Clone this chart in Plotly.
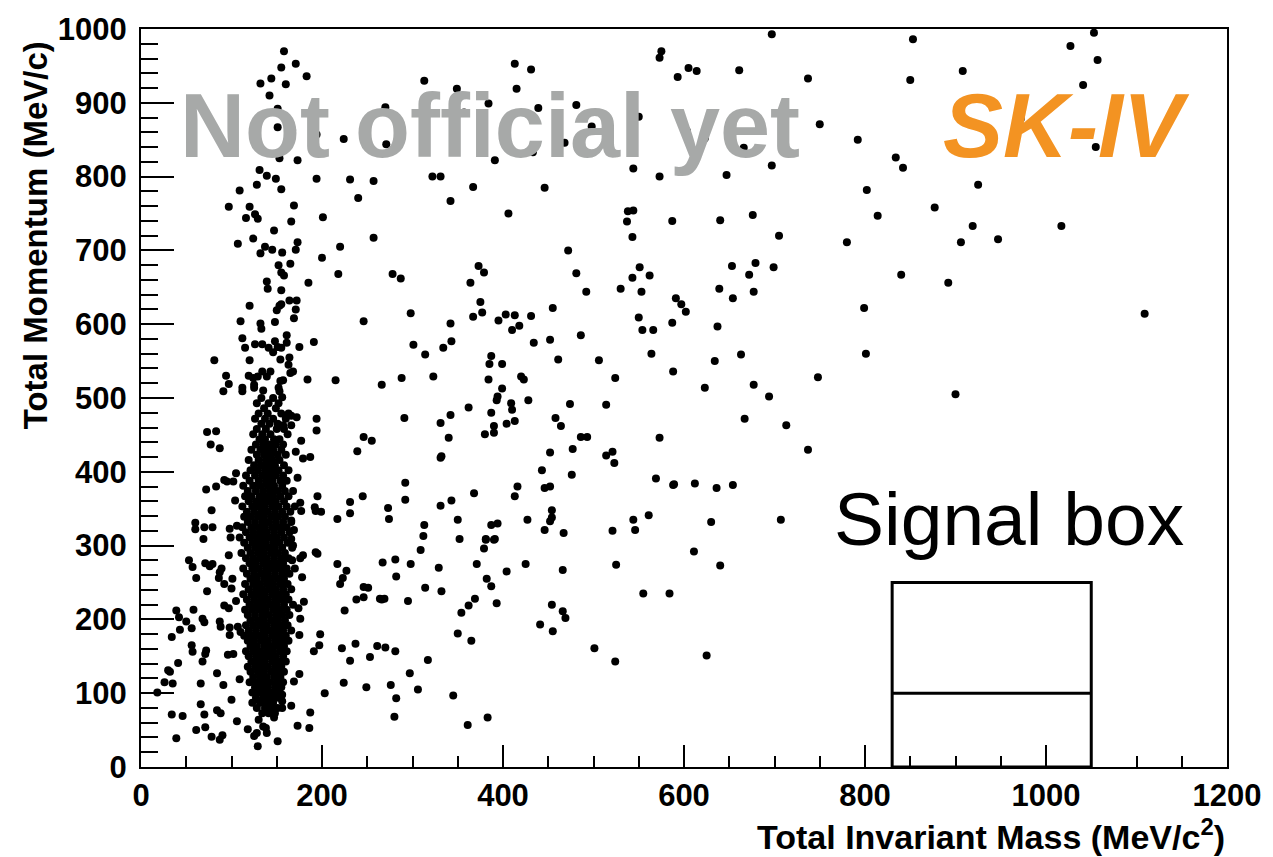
import plotly.graph_objects as go

# ---------------- data (Total Invariant Mass [MeV/c^2], Total Momentum [MeV/c]) ----------------
# high-momentum region, low mass (mom > 630)
upper_left_points = [
    (158,970),(171,953),(155,948),(183,936),(144,933),(132,926),(160,925),(142,910),(151,892),(270,894),
    (313,930),(349,919),(384,899),(357,887),(413,953),(415,919),(167,863),(151,867),(194,857),(224,851),
    (271,844),(391,822),(406,839),(153,825),(173,822),(131,809),(139,801),(149,797),(194,797),(231,796),
    (257,794),(322,800),(331,800),(128,789),(155,783),(109,781),(367,786),(240,771),(342,767),(97,759),
    (120,759),(169,761),(406,750),(116,744),(126,749),(129,743),(201,745),(166,739),(147,727),(257,717),
    (124,716),(107,709),(173,711),(137,705),(145,701),(132,696),(156,697),(171,701),(220,705),(200,690),
    (152,680),(165,682),(155,670),(158,666),(218,668),(278,668),(287,662),(373,679),(379,670),(364,656),
    (139,658),(140,648),(155,646),(185,656),(164,632),(172,632),(375,630),
]

# middle momentum region, low mass (300 - 630)
middle_left_points = [
    (120,625),(153,625),(155,627),(150,619),(171,620),(169,608),(298,615),(246,604),(367,610),(377,616),
    (395,605),(403,613),(413,612),(418,598),(410,592),(342,601),(110,604),(132,601),(133,594),(148,603),
    (161,585),(161,575),(112,581),(191,576),(115,568),(126,573),(134,573),(141,568),(146,562),(148,577),
    (151,569),(155,568),(175,569),(301,572),(343,577),(334,568),(314,559),(81,551),(120,551),(154,552),
    (164,555),(163,545),(387,557),(385,546),(399,546),(94,530),(97,519),(91,509),(112,514),(112,509),
    (119,530),(124,527),(125,518),(125,514),(129,529),(134,536),(139,529),(143,536),(135,510),(154,523),
    (157,524),(152,514),(153,509),(165,534),(168,536),(156,501),(184,525),(215,524),(266,518),(288,527),
    (323,529),(384,525),(399,513),(394,502),(393,497),(420,529),(423,525),(428,497),(362,487),(387,480),
    (409,493),(410,484),(390,462),(380,451),(390,453),(404,465),(413,469),(342,477),(331,466),(340,446),
    (291,473),(246,447),(255,442),(239,428),(331,419),(332,421),(194,472),(194,456),(172,474),(163,479),
    (166,476),(166,463),(157,463),(177,442),(171,427),(179,418),(187,420),(73,454),(83,455),(77,437),
    (87,432),(72,376),(83,380),(78,348),(60,331),(60,322),(70,325),(79,325),(69,309),(92,389),
    (95,387),(102,387),(105,398),(104,361),(98,323),(106,327),(99,311),(109,311),(173,392),(176,358),
    (177,347),(166,334),(169,321),(195,367),(192,352),(199,346),(193,347),(217,336),(231,359),(231,344),
    (245,367),(273,351),(274,336),(292,385),(292,362),(313,328),(312,313),(331,354),(343,361),(350,335),
    (352,309),(368,371),(387,328),(394,330),(381,309),(391,309),(413,367),(416,380),(427,335),
]

# low momentum region, low mass (< 300)
lower_left_points = [
    (53,280),(57,271),(61,256),(71,276),(76,272),(79,275),(87,264),(89,269),(86,256),(73,238),
    (97,287),(92,248),(100,242),(101,255),(39,212),(42,203),(50,197),(58,213),(56,188),(43,186),
    (34,176),(68,201),(70,196),(87,197),(88,190),(92,219),(97,215),(105,225),(98,189),(98,179),
    (107,190),(110,183),(56,165),(57,156),(72,158),(71,153),(68,143),(41,141),(30,131),(32,129),
    (26,115),(35,113),(18,101),(84,127),(91,111),(66,113),(96,152),(102,153),(109,119),(100,91),
    (66,85),(70,71),(84,77),(88,73),(34,71),(46,69),(61,50),(71,54),(78,41),(87,37),
    (90,43),(39,39),(106,62),(118,51),(125,42),(128,46),(129,28),(130,64),(135,55),(138,53),
    (139,46),(151,35),(147,67),(123,87),(131,89),(156,98),(156,89),(156,80),(166,83),(173,56),
    (186,53),(187,74),(175,126),(169,116),(174,215),(176,201),(175,179),(180,224),(178,257),(176,283),
    (179,287),(167,280),(168,300),(166,309),(193,291),(195,289),(198,180),(197,165),(191,157),(203,100),
    (217,275),(227,266),(223,256),(220,248),(225,212),(238,227),(246,230),(246,244),(251,243),(264,228),
    (266,227),(269,228),(267,277),(281,281),(282,258),(298,275),(295,225),(309,294),(314,243),(329,270),
    (332,238),(222,161),(237,167),(231,144),(253,149),(261,164),(270,162),(281,157),(317,145),(297,127),
    (306,105),(276,111),(282,93),(280,68),(249,108),(224,114),(345,97),(361,57),(383,67),(350,181),
    (365,171),(354,209),(362,219),(369,228),(393,222),(382,255),(387,245),(371,275),(379,296),(381,308),
    (390,308),(404,265),(425,275),
]

# high mass region
upper_right_points = [
    (697,993),(575,970),(573,961),(431,945),(593,935),(605,947),(614,943),(661,944),(737,933),(439,893),
    (481,897),(498,868),(550,881),(468,846),(433,833),(603,862),(623,852),(666,839),(750,871),(792,850),
    (834,826),(697,815),(544,811),(573,800),(647,802),(446,785),(802,782),(538,753),(544,754),(537,739),
    (587,740),(640,741),(676,748),(814,747),(543,718),(705,720),(780,711),(472,700),(481,669),(492,644),
    (530,648),(551,677),(543,663),(562,666),(553,644),(591,635),(639,648),(653,679),(672,667),(679,683),
    (699,677),(654,635),(677,644),
    (853,986),(1053,995),(1027,977),(1057,958),(908,943),(850,931),(1041,924),(1055,840),(842,812),(925,789),
    (877,758),(919,733),(1017,733),(906,711),(947,715),(840,667),(892,656),(972,878),
]

middle_right_points = [
    (597,627),(602,617),(799,622),(801,560),(455,622),(431,611),(434,575),(452,579),(486,585),(550,609),
    (554,592),(566,592),(587,602),(637,597),(564,560),(588,536),(634,550),(663,559),(677,518),(694,502),
    (623,514),(748,528),(461,552),(506,551),(524,527),(474,492),(514,491),(458,473),(464,462),(486,447),
    (493,447),(573,446),(667,472),(713,463),(737,430),(452,426),(477,431),(514,422),(521,427),(523,412),
    (443,402),(476,396),(569,391),(588,382),(589,383),(612,384),(636,378),(654,382),(446,378),(452,380),
    (454,348),(454,338),(452,333),(446,321),(467,317),(521,320),(544,335),(546,321),(561,341),(630,332),
    (707,335),(1109,614),(900,505),
]

lower_right_points = [
    (611,292),(640,273),(466,267),(525,274),(555,235),(584,235),(454,220),(466,211),(469,202),(441,193),
    (455,184),(501,161),(524,143),(625,151),
]

# dense pi0 band: momentum rows and the masses seen along each row
cluster_mom = [500,493,486,479,472,465,458,451,444,437,430,423,416,409,402,395,388,381,374,367,
               360,353,346,339,332,325,318,311,304,297,290,283,276,269,262,255,248,241,234,227,
               220,213,206,199,192,185,178,171,164,157,150,143,136,129,122,115,108,101,94,87,80,73]
cluster_mass = [
    [133,146],[128,141,152],[136,149],[130,140,155],[126,137,146,160],
    [133,142,151],[128,138,150,158],[124,134,143,162],[131,137,147,153],[127,135,142,149,157],
    [122,132,139,146,155],[128,136,143,151,160],[119,130,138,145,153],[125,133,141,148,158],[121,129,137,144,152,163],
    [116,126,134,142,149,157],[120,130,138,145,154,161],[113,124,132,140,147,156],[118,127,135,143,151,159,168],[115,122,131,139,146,154,163],
    [119,127,134,142,149,158],[112,123,130,137,145,152,161,170],[117,125,133,140,148,156,165],[114,121,129,136,144,151,159],[118,126,134,141,149,157,166],
    [112,122,130,137,145,153,161],[116,124,132,139,147,155,164],[120,128,135,142,150,158],[114,123,131,138,146,153,162],[118,126,133,141,148,156,167],
    [111,121,129,136,144,151,159],[116,124,132,139,147,155,163],[120,127,135,142,150,157],[113,123,130,138,145,153,161,170],[117,125,133,140,148,156,164],
    [121,128,136,143,151,158],[115,124,131,139,146,154,162],[119,127,134,142,149,157,166],[113,122,130,137,145,152,160],[117,125,133,140,148,155,163],
    [120,128,135,143,150,158,168],[115,123,131,138,146,153,161],[118,126,134,141,149,156,164],[121,129,136,144,151,159],[116,124,132,139,147,154,162],
    [119,127,135,142,150,157,166],[114,122,130,137,145,152,160],[118,125,133,140,148,155,163],[121,128,136,143,151,158],[116,124,131,139,146,154,161],
    [119,127,134,142,149,157],[122,130,137,145,152,160],[118,126,133,140,148,155],[121,129,136,144,151,158],[124,132,139,147,154],
    [120,128,135,142,150,157],[126,133,140,148,155],[123,131,138,145,152],[127,135,142,150],[132,139,146],
    [128,137,144,151],[134,141,148],
]

x_ticks = [0, 200, 400, 600, 800, 1000, 1200]
y_ticks = [0, 100, 200, 300, 400, 500, 600, 700, 800, 900, 1000]

signal_box_mass = (830, 1050)
signal_box_mom = (0, 250)
signal_box_split = 100

# ---------------- build ----------------
mass, mom = [], []
for pts in (upper_left_points, middle_left_points, lower_left_points,
            upper_right_points, middle_right_points, lower_right_points):
    for m, p in pts:
        mass.append(m)
        mom.append(p)
for p, row in zip(cluster_mom, cluster_mass):
    for m in row:
        mass.append(m)
        mom.append(p)

FONT = "Liberation Sans, Arial, Helvetica, sans-serif"

fig = go.Figure()
fig.add_trace(go.Scatter(
    x=mass, y=mom, mode="markers",
    marker=dict(size=8, color="black", line=dict(width=0)),
    hoverinfo="x+y", showlegend=False,
))

fig.add_shape(type="rect", xref="x", yref="y",
              x0=signal_box_mass[0], x1=signal_box_mass[1],
              y0=signal_box_mom[0], y1=signal_box_mom[1],
              line=dict(color="black", width=3))
fig.add_shape(type="line", xref="x", yref="y",
              x0=signal_box_mass[0], x1=signal_box_mass[1],
              y0=signal_box_split, y1=signal_box_split,
              line=dict(color="black", width=3))

axis_common = dict(
    showgrid=False, zeroline=False, showline=True, linecolor="black", linewidth=2,
    mirror=True, ticks="inside", tickwidth=2, tickcolor="black",
    tickfont=dict(family=FONT, size=31, color="black", weight="bold"),
)
fig.update_xaxes(range=[0, 1200], tickvals=x_ticks, ticklen=22,
                 minor=dict(ticks="inside", ticklen=11, dtick=50, tickwidth=2,
                            tickcolor="black", showgrid=False),
                 **axis_common)
fig.update_yaxes(range=[0, 1000], tickvals=y_ticks, ticklen=33,
                 minor=dict(ticks="inside", ticklen=17, dtick=20, tickwidth=2,
                            tickcolor="black", showgrid=False),
                 ticklabelstandoff=6,
                 **axis_common)

fig.add_annotation(x=41, y=869, xref="x", yref="y", xanchor="left", yanchor="middle",
                   text="Not official yet", showarrow=False,
                   font=dict(family=FONT, size=90, color="#A7A9A8", weight="bold"))
fig.add_annotation(x=884, y=869, xref="x", yref="y", xanchor="left", yanchor="middle",
                   text="SK-IV", showarrow=False,
                   font=dict(family=FONT, size=90, color="#F39322", weight="bold", style="italic"))
fig.add_annotation(x=763, y=336, xref="x", yref="y", xanchor="left", yanchor="middle",
                   text="Signal box", showarrow=False,
                   font=dict(family=FONT, size=75, color="black"))
fig.add_annotation(x=-0.097, y=0.72, xref="paper", yref="paper", xanchor="center", yanchor="middle",
                   text="Total Momentum (MeV/c)", textangle=-90, showarrow=False,
                   font=dict(family=FONT, size=33, color="black", weight="bold"))
fig.add_annotation(x=1.0, y=-0.091, xref="paper", yref="paper", xanchor="right", yanchor="middle",
                   text="Total Invariant Mass (MeV/c<sup>2</sup>)", showarrow=False,
                   font=dict(family=FONT, size=34, color="black", weight="bold"))

fig.update_layout(
    width=1273, height=857,
    margin=dict(l=141, r=35, t=26, b=90),
    plot_bgcolor="white", paper_bgcolor="white",
    showlegend=False,
)

fig.write_html("out.html")
